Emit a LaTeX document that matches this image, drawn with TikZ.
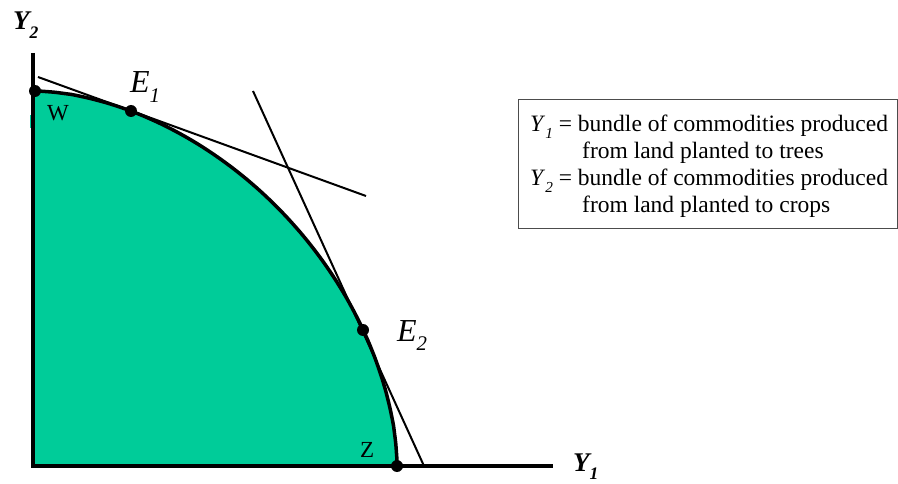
\documentclass[tikz,border=0pt]{standalone}
\usepackage{fontspec}
\setmainfont{Liberation Serif}
\colorlet{framegray}{black!70}
\definecolor{leafgreen}{RGB}{0,204,153}
\newcommand{\sublbl}[2]{#1\raisebox{-0.3em}{\scalebox{0.65}{#2}}}

\begin{document}
\begin{tikzpicture}[x=1pt,y=1pt,
  dot/.style={circle,fill=black,inner sep=0pt,minimum size=12pt},
  tangent/.style={line width=2pt},
  axislabel/.style={font=\fontsize{27}{27}\selectfont\bfseries\itshape,inner sep=0pt,anchor=base west},
  pointlabel/.style={font=\fontsize{32}{32}\selectfont\itshape,inner sep=0pt,anchor=base west},
  cornerlabel/.style={font=\fontsize{23}{23}\selectfont,inner sep=0pt,anchor=base west}]
\useasboundingbox (-33,-17) rectangle (865,466);
% production possibility set: superellipse x^n/A^n + y^n/B^n = 1, n = 1.8
\fill[leafgreen] (0,0) -- (364,0)
  -- plot[domain=0.1:89.9,samples=100,variable=\t] ({364*pow(cos(\t),1.1111)},{375*pow(sin(\t),1.1111)})
  -- (0,375) -- cycle;
\fill[leafgreen] (-3,338) rectangle (0,351);
% points on the frontier
\coordinate (w) at (2,375);
\coordinate (e1) at (98,355);
\coordinate (e2) at (330,136);
\coordinate (z) at (364,0);
% price lines tangent at E1 and E2
\coordinate (t1a) at (5,389);   \coordinate (t1b) at (333,270);
\coordinate (t2a) at (220,375); \coordinate (t2b) at (391,0);
\draw[tangent] (t1a) -- (t1b);
\draw[tangent] (t2a) -- (t2b);
% frontier
\draw[line width=3.5pt] plot[domain=0.1:89.9,samples=100,variable=\t] ({364*pow(cos(\t),1.1111)},{375*pow(sin(\t),1.1111)});
% axes
\coordinate (o) at (0,0);
\coordinate (ytop) at (0,413);
\coordinate (xend) at (520,0);
\draw[line width=3.5pt] (ytop) -- (o) -- (xend);
\node[axislabel] (ly2) at (-20,436) {\sublbl{Y}{2}};
\node[axislabel] (ly1) at (540,-5) {\sublbl{Y}{1}};
% dots and their labels
\node[dot] (dw) at (w) {};
\node[dot] (de1) at (e1) {};
\node[dot] (de2) at (e2) {};
\node[dot] (dz) at (z) {};
\node[pointlabel] (le1) at (97,373) {\sublbl{E}{1}};
\node[pointlabel] (le2) at (364,125) {\sublbl{E}{2}};
\node[cornerlabel] (lw) at (14,345) {W};
\node[cornerlabel] (lz) at (327,9) {Z};
% legend
\draw[framegray,line width=1pt] (485,237) rectangle (864,366);
\node[anchor=north west,align=left,inner sep=0pt,font=\fontsize{23.5}{27}\selectfont] (legend) at (497,351)
  {\sublbl{\textit{Y}}{\textit{1}} = bundle of commodities produced\\
   \hspace*{52pt}from land planted to trees\\
   \sublbl{\textit{Y}}{\textit{2}} = bundle of commodities produced\\
   \hspace*{52pt}from land planted to crops};
\end{tikzpicture}
\end{document}
